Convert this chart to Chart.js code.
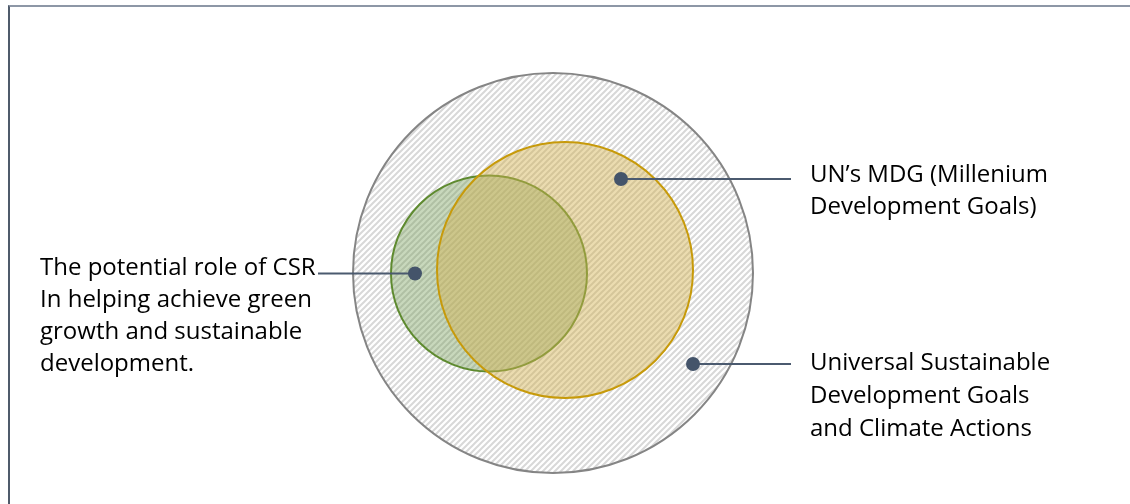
<!DOCTYPE html>
<html>
<head>
<meta charset="utf-8">
<script src="https://cdn.jsdelivr.net/npm/chart.js@4"></script>
<style>
  body { margin: 0; background: #fff; }
  #wrap { position: relative; width: 1130px; height: 504px; }
  #frame { position: absolute; left: 8px; top: 5px; right: 0; bottom: 0;
           border-top: 2px solid #8d97a6; border-left: 2px solid #4f5b6b; }
  canvas { position: absolute; left: 0; top: 0; }
</style>
</head>
<body>
<div id="wrap">
  <div id="frame"></div>
  <canvas id="venn" width="1130" height="504"></canvas>
</div>
<script>
// Circles (diagram units, y grows downwards)
var circleNames = ['Universal SDGs', 'CSR role', 'UN MDG'];
var circleX = [553, 489, 565];
var circleY = [273, 273.5, 270];
var circleR = [200, 98, 128];

// Marker dots and leader line ends
var markerX = [693, 415, 621];
var markerY = [364, 273.5, 179];
var leaderEndX = [791, 318, 791];

// Label texts
var labelSDG = ['Universal Sustainable', 'Development Goals', 'and Climate Actions'];
var labelCSR = ['The potential role of CSR', 'In helping achieve green', 'growth and sustainable', 'development.'];
var labelMDG = ['UN\u2019s MDG (Millenium', 'Development Goals)'];

// where each text block starts (first baseline)
var labelAnchors = [
  { lines: labelSDG, x: 810, y: 369.5, step: 33 },
  { lines: labelCSR, x: 40, y: 275, step: 32 },
  { lines: labelMDG, x: 810, y: 181.5, step: 32 }
];

function makeStripes() {
  var c = document.createElement('canvas');
  c.width = 6; c.height = 6;
  var g = c.getContext('2d');
  g.strokeStyle = '#d8d8d8';
  g.lineWidth = 2;
  g.beginPath();
  g.moveTo(-1, 7); g.lineTo(7, -1);
  g.moveTo(-4, 4); g.lineTo(4, -4);
  g.moveTo(2, 10); g.lineTo(10, 2);
  g.stroke();
  return g.createPattern(c, 'repeat');
}
var ctxMain = document.getElementById('venn').getContext('2d');
var stripes = makeStripes();

// radius in pixels from the x scale
function pxRadius(i) {
  return function(ctx) {
    var xs = ctx.chart.scales.x;
    return xs.getPixelForValue(circleX[i] + circleR[i]) - xs.getPixelForValue(circleX[i]);
  };
}

function circleSet(i, fill, stroke, order) {
  return {
    type: 'scatter',
    label: circleNames[i],
    data: [{ x: circleX[i], y: circleY[i] }],
    pointRadius: pxRadius(i),
    pointHoverRadius: pxRadius(i),
    pointBackgroundColor: fill,
    pointBorderColor: stroke,
    pointBorderWidth: 2,
    order: order
  };
}

function leaderSet(i) {
  return {
    type: 'line',
    data: [{ x: markerX[i], y: markerY[i] }, { x: leaderEndX[i], y: markerY[i] }],
    borderColor: '#4b5a6f',
    borderWidth: 2,
    pointRadius: 0,
    fill: false,
    order: 1
  };
}

var datasets = [
  circleSet(0, stripes, '#858585', 5),
  circleSet(1, 'rgba(117,157,87,0.4)', '#5e8a2f', 4),
  circleSet(2, 'rgba(210,178,80,0.45)', '#c79a0a', 3),
  leaderSet(0), leaderSet(1), leaderSet(2),
  {
    type: 'scatter',
    label: 'markers',
    data: markerX.map(function(x, i) { return { x: x, y: markerY[i] }; }),
    pointRadius: 7,
    pointBackgroundColor: '#44546a',
    pointBorderWidth: 0,
    order: 0
  }
];

var labelPlugin = {
  id: 'labels',
  afterDraw: function(chart) {
    var c = chart.ctx, xs = chart.scales.x, ys = chart.scales.y;
    c.save();
    c.fillStyle = '#000';
    c.font = '24px "Open Sans"';
    c.textBaseline = 'alphabetic';
    labelAnchors.forEach(function(a) {
      a.lines.forEach(function(t, k) {
        c.fillText(t, xs.getPixelForValue(a.x), ys.getPixelForValue(a.y + k * a.step));
      });
    });
    c.restore();
  }
};

new Chart(ctxMain, {
  type: 'scatter',
  data: { datasets: datasets },
  options: {
    responsive: false,
    animation: false,
    events: [],
    layout: { padding: 0, autoPadding: false },
    plugins: { legend: { display: false }, tooltip: { enabled: false } },
    scales: {
      x: { type: 'linear', min: 0, max: 1130, display: false },
      y: { type: 'linear', min: 0, max: 504, reverse: true, display: false }
    }
  },
  plugins: [labelPlugin]
});
</script>
</body>
</html>
